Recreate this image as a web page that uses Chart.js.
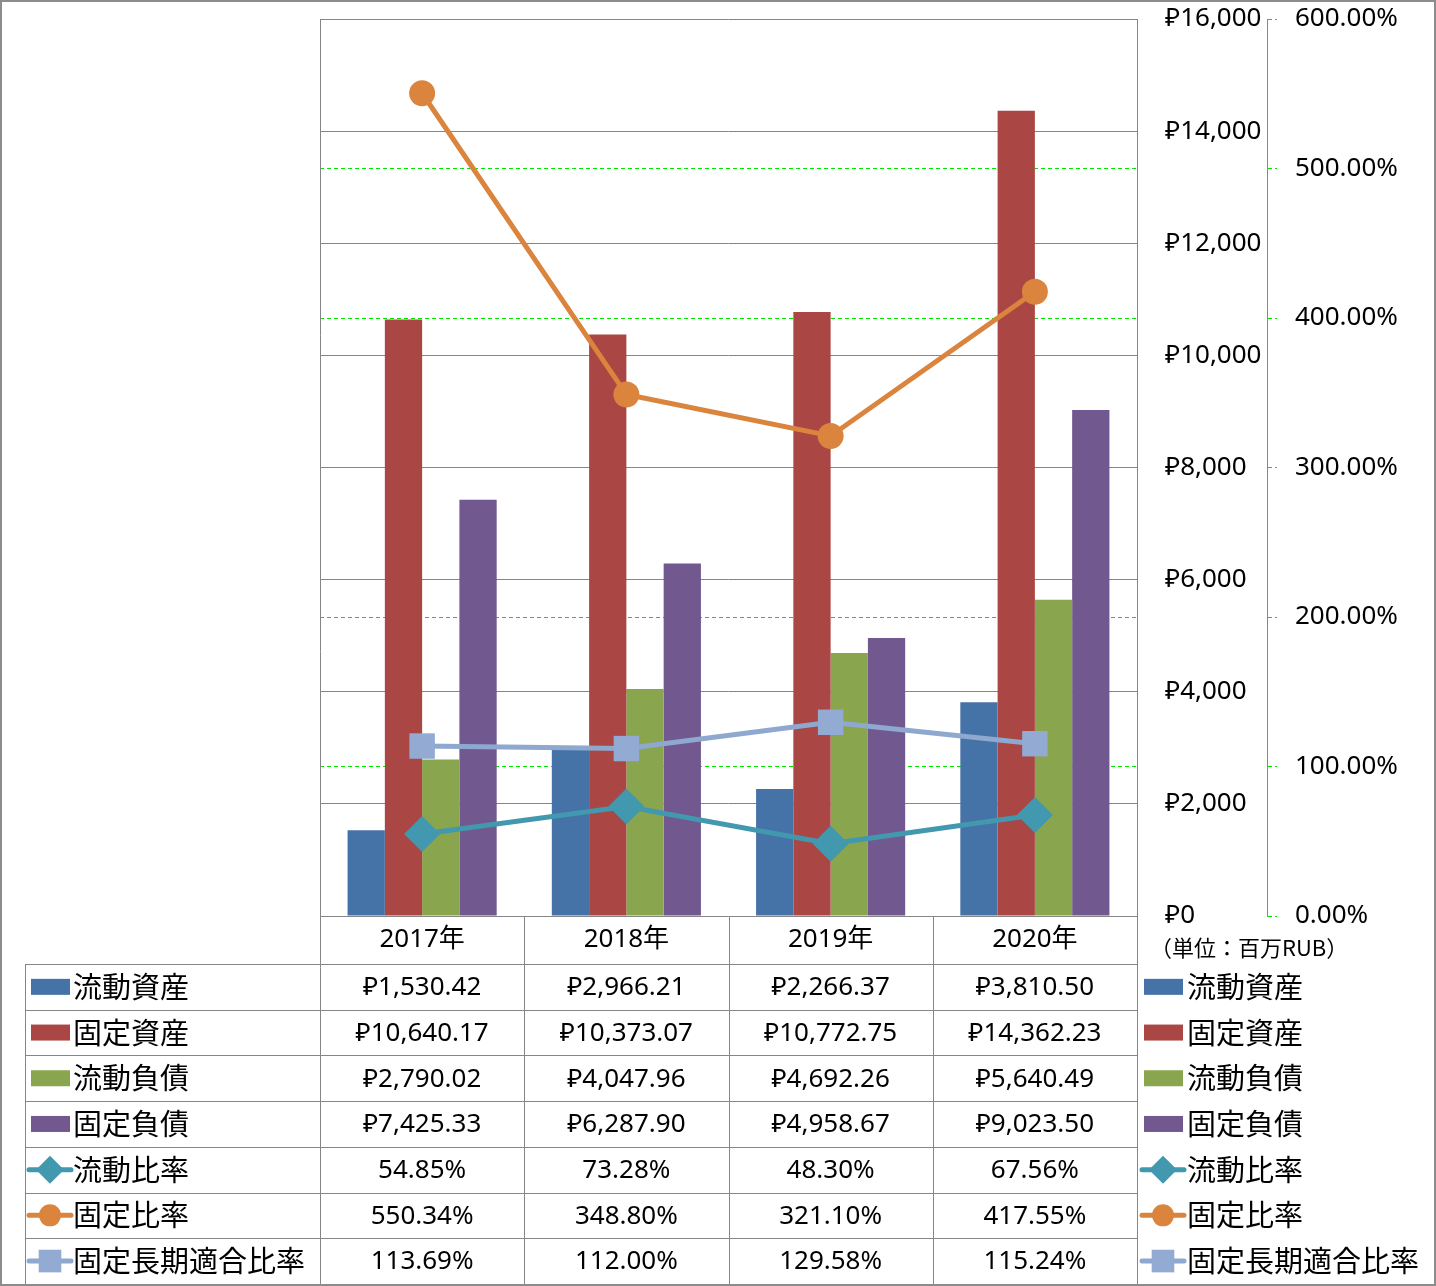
<!DOCTYPE html>
<html>
<head>
<meta charset="utf-8">
<script src="https://cdn.jsdelivr.net/npm/chart.js@4/dist/chart.umd.min.js"></script>
<style>
  body { margin: 0; background: #fff; }
  #wrap { width: 1436px; height: 1286px; position: relative; }
</style>
</head>
<body>
<div id="wrap"><canvas id="finChart" width="1436" height="1286"></canvas></div>
<script>
// data (単位：百万RUB)
var years = ['2017年', '2018年', '2019年', '2020年'];
var currentAssets = [1530.42, 2966.21, 2266.37, 3810.50];
var fixedAssets = [10640.17, 10373.07, 10772.75, 14362.23];
var currentLiab = [2790.02, 4047.96, 4692.26, 5640.49];
var fixedLiab = [7425.33, 6287.90, 4958.67, 9023.50];
var currentRatio = [54.85, 73.28, 48.30, 67.56];
var fixedRatio = [550.34, 348.80, 321.10, 417.55];
var longTermRatio = [113.69, 112.00, 129.58, 115.24];
var unitLabel = '（単位：百万RUB）';

var numFamily = '"Noto Sans", "Noto Sans CJK JP", sans-serif';
var numFont = '26px ' + numFamily;
var jpFont = '29px "Noto Sans CJK JP", sans-serif';
var gridGrey = '#868686';
var green = '#00e600';

function rub(v) {
    return '₽' + v.toLocaleString('en-US', {minimumFractionDigits: 2, maximumFractionDigits: 2});
}
function pct(v) {
    return v.toFixed(2) + '%';
}

window.onload = function() {

    // draws the data table under the plot, the legend on the right and the frame
    var tablePlugin = {
        id: 'dataTable',
        afterDraw: function(chart) {
            var ctx = chart.ctx;
            var area = chart.chartArea;
            var xs = chart.scales.x;
            var sets = chart.data.datasets;
            var rowH = 45.7;
            var top = area.bottom;
            var headBottom = 964;
            var bottom = headBottom + rowH * sets.length;
            var colW = (area.right - area.left) / years.length;

            ctx.save();
            ctx.strokeStyle = gridGrey;
            ctx.lineWidth = 1;
            ctx.beginPath();
            // vertical lines
            for (var i = 0; i <= years.length; i++) {
                var vx = Math.round(area.left + colW * i) + 0.5;
                ctx.moveTo(vx, i == 0 ? area.top : top);
                ctx.lineTo(vx, bottom);
            }
            ctx.moveTo(25.5, headBottom);
            ctx.lineTo(25.5, bottom);
            // horizontal lines
            for (var r = 0; r <= sets.length; r++) {
                var hy = Math.round(headBottom + rowH * r) + 0.5;
                ctx.moveTo(25, hy);
                ctx.lineTo(area.right, hy);
            }
            ctx.stroke();

            ctx.fillStyle = '#000';
            ctx.textAlign = 'center';
            ctx.textBaseline = 'middle';
            ctx.font = numFont;
            for (var c = 0; c < years.length; c++) {
                ctx.fillText(years[c], xs.getPixelForValue(c), 940);
            }

            for (var k = 0; k < sets.length; k++) {
                var ds = sets[k];
                var cy = headBottom + rowH * k + rowH / 2;
                ctx.font = numFont;
                ctx.textAlign = 'center';
                ctx.fillStyle = '#000';
                for (var j = 0; j < ds.data.length; j++) {
                    var txt = ds.type == 'line' ? pct(ds.data[j]) : rub(ds.data[j]);
                    ctx.fillText(txt, xs.getPixelForValue(j), cy + 1);
                }
                drawKey(ctx, ds, 50, cy);
                drawKey(ctx, ds, 1163, cy);
                ctx.font = jpFont;
                ctx.textAlign = 'left';
                ctx.fillStyle = '#000';
                ctx.fillText(ds.label, 73, cy);
                ctx.fillText(ds.label, 1187, cy);
            }

            ctx.font = '22px "Noto Sans CJK JP", sans-serif';
            ctx.textAlign = 'left';
            ctx.fillText(unitLabel, 1150, 948);

            // outer frame
            ctx.strokeStyle = '#8c8c8c';
            ctx.lineWidth = 2;
            ctx.strokeRect(1, 1, chart.width - 2, chart.height - 2);
            ctx.restore();
        }
    };

    function drawKey(ctx, ds, x, y) {
        if (ds.type == 'line') {
            ctx.strokeStyle = ds.borderColor;
            ctx.lineWidth = 5;
            ctx.lineCap = 'round';
            ctx.beginPath();
            ctx.moveTo(x - 21, y);
            ctx.lineTo(x + 21, y);
            ctx.stroke();
            ctx.fillStyle = ds.pointBackgroundColor;
            ctx.strokeStyle = ds.borderColor;
            Chart.helpers.drawPoint(ctx, {
                pointStyle: ds.pointStyle,
                rotation: 0,
                radius: ds.keyRadius,
                borderWidth: 0
            }, x, y);
        } else {
            ctx.fillStyle = ds.backgroundColor;
            ctx.fillRect(x - 19, y - 8, 39, 16);
        }
    }

    function fitRight(w) {
        return function(s) {
            s.width = w;
            s.paddingTop = 0;
            s.paddingBottom = 0;
        };
    }

    var ctx = document.getElementById('finChart').getContext('2d');
    var finChart = new Chart(ctx, {
        type: 'bar',
        data: {
            labels: years,
            datasets: [{
                type: 'bar', label: '流動資産', data: currentAssets,
                backgroundColor: '#4572A7', yAxisID: 'y', order: 2
            }, {
                type: 'bar', label: '固定資産', data: fixedAssets,
                backgroundColor: '#AA4643', yAxisID: 'y', order: 2
            }, {
                type: 'bar', label: '流動負債', data: currentLiab,
                backgroundColor: '#89A54E', yAxisID: 'y', order: 2
            }, {
                type: 'bar', label: '固定負債', data: fixedLiab,
                backgroundColor: '#71588F', yAxisID: 'y', order: 2
            }, {
                type: 'line', label: '流動比率', data: currentRatio,
                borderColor: '#4198AF', pointBackgroundColor: '#4198AF',
                borderWidth: 5, pointStyle: 'rectRot', pointRadius: 18,
                pointBorderWidth: 0, keyRadius: 14, yAxisID: 'y1', order: 1
            }, {
                type: 'line', label: '固定比率', data: fixedRatio,
                borderColor: '#DB843D', pointBackgroundColor: '#DB843D',
                borderWidth: 5, pointStyle: 'circle', pointRadius: 13,
                pointBorderWidth: 0, keyRadius: 11, yAxisID: 'y1', order: 1
            }, {
                type: 'line', label: '固定長期適合比率', data: longTermRatio,
                borderColor: '#8EA8D0', pointBackgroundColor: '#93AAD2',
                borderWidth: 5, pointStyle: 'rect', pointRadius: 18,
                pointBorderWidth: 0, keyRadius: 16, yAxisID: 'y1', order: 1
            }]
        },
        options: {
            responsive: false,
            animation: false,
            layout: { padding: { left: 320, top: 19, bottom: 370, right: 0 } },
            plugins: {
                legend: { display: false },
                tooltip: { enabled: false }
            },
            datasets: {
                bar: { categoryPercentage: 0.73, barPercentage: 1 },
                line: { tension: 0 }
            },
            scales: {
                x: { display: false },
                y: {
                    position: 'right',
                    min: 0, max: 16000,
                    afterFit: fitRight(130),
                    ticks: {
                        stepSize: 2000, padding: 28, color: '#000',
                        font: { family: numFamily, size: 26 },
                        callback: function(v) { return '₽' + v.toLocaleString('en-US'); }
                    },
                    grid: { color: gridGrey, drawTicks: false },
                    border: { color: gridGrey }
                },
                y1: {
                    position: 'right',
                    min: 0, max: 600,
                    afterFit: fitRight(169),
                    ticks: {
                        stepSize: 100, padding: 18, color: '#000',
                        font: { family: numFamily, size: 26 },
                        callback: function(v) { return pct(v); }
                    },
                    grid: {
                        color: function(c) {
                            var v = c.tick ? c.tick.value : 0;
                            return (v == 0 || v == 600) ? 'rgba(0,0,0,0)' : green;
                        },
                        tickColor: green,
                        tickLength: 10,
                        tickBorderDash: [4, 3]
                    },
                    border: { color: green, dash: [4, 3] }
                }
            }
        },
        plugins: [tablePlugin]
    });
}
</script>
</body>
</html>
